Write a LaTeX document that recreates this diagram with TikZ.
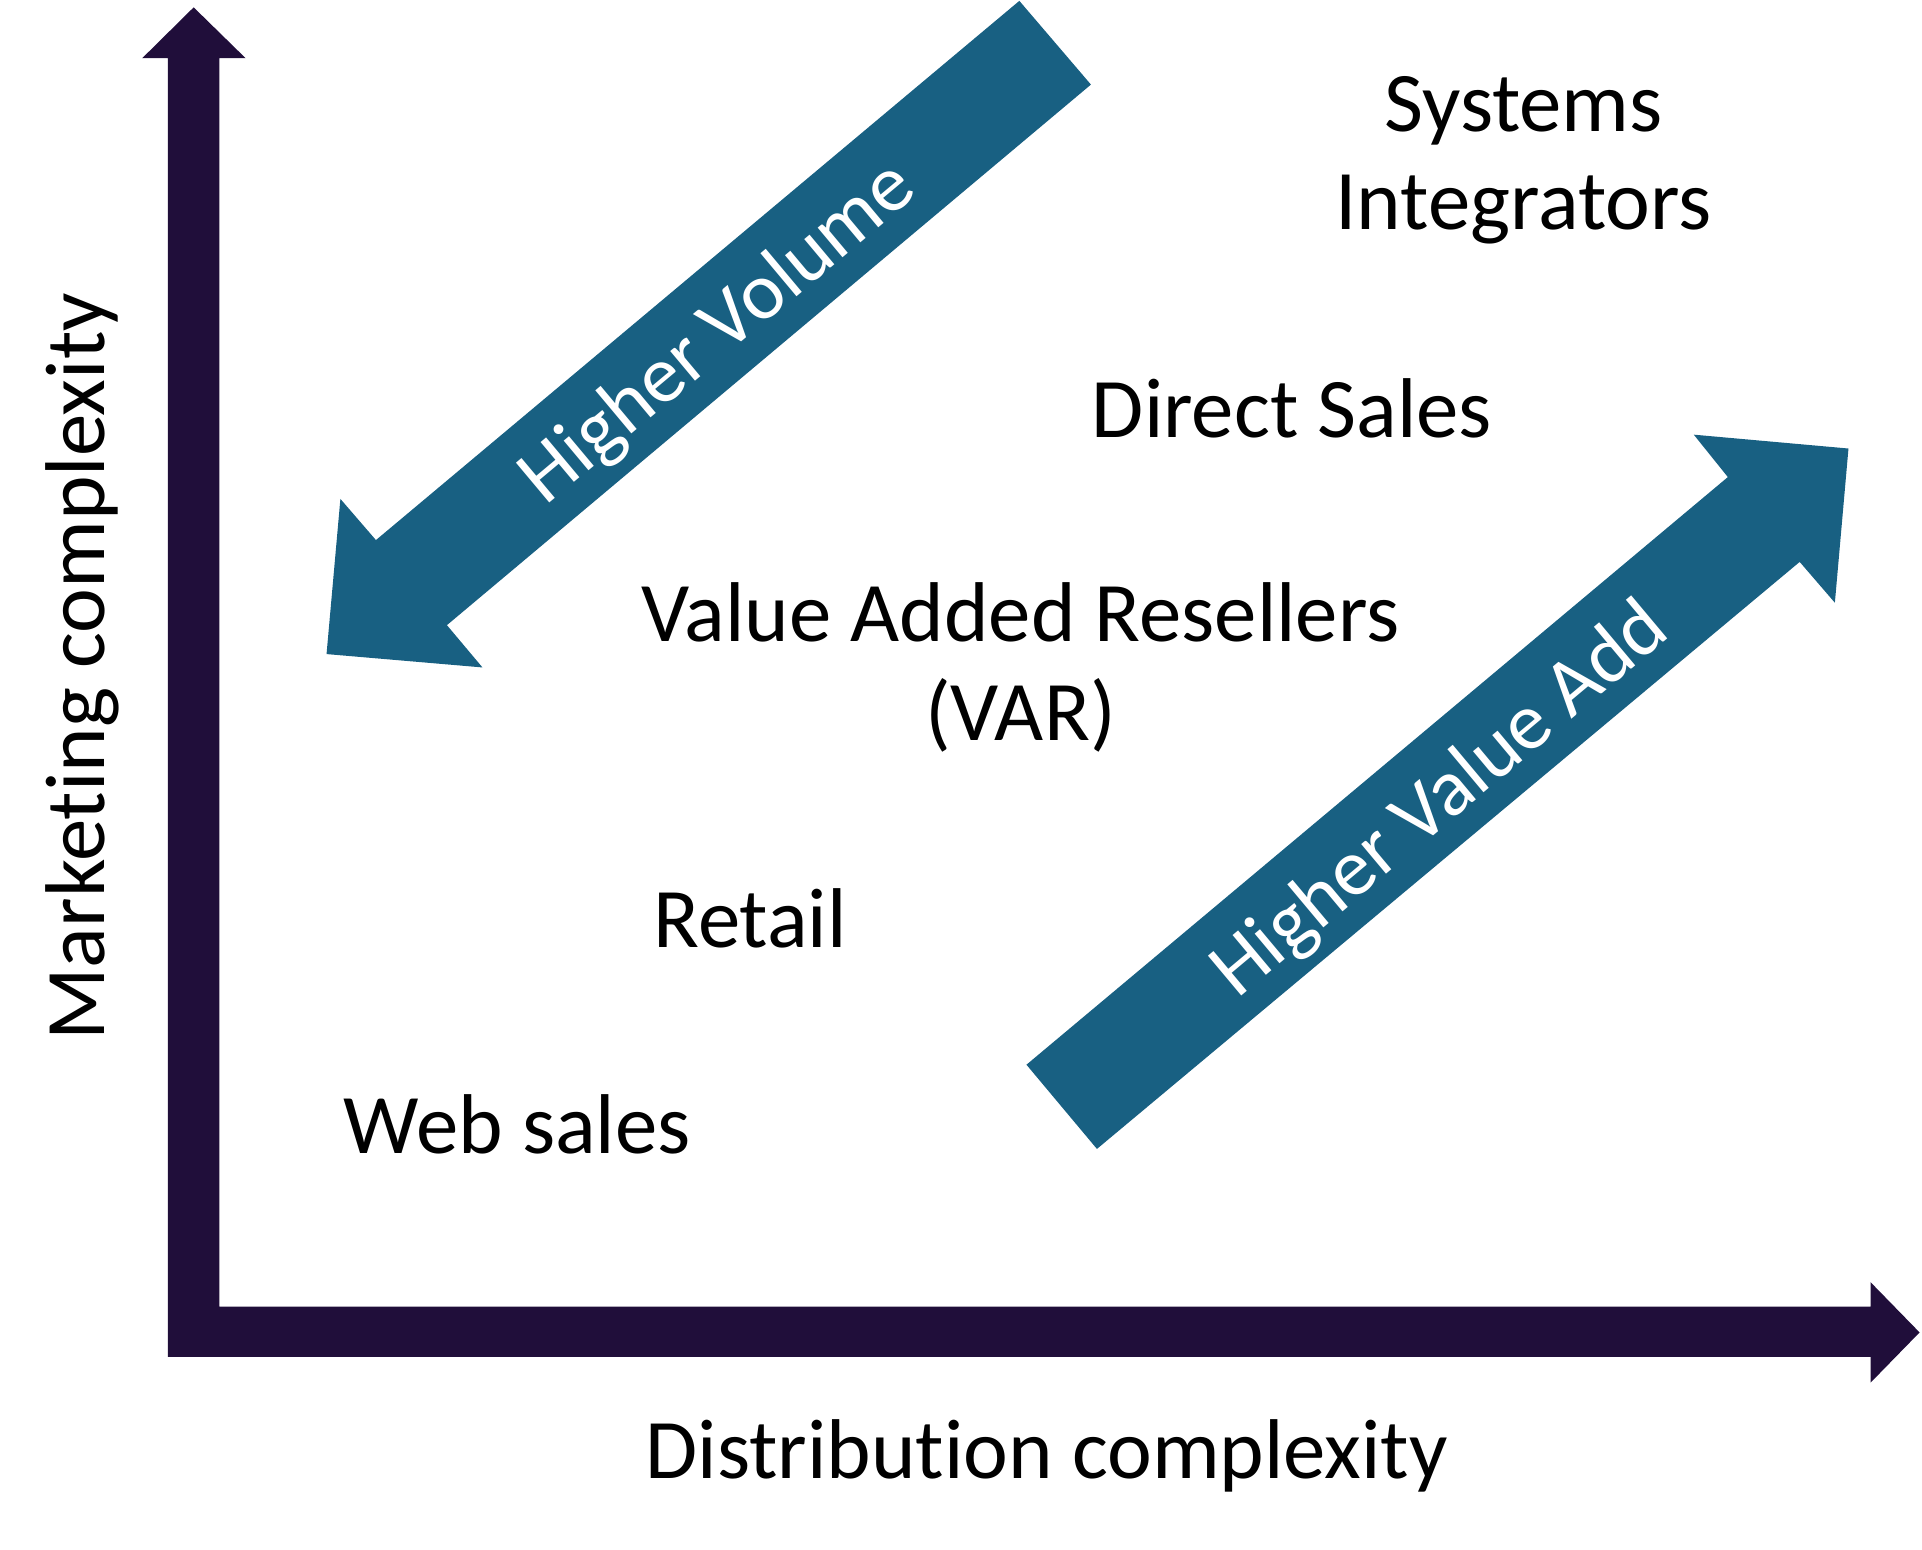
\documentclass[tikz,border=0pt]{standalone}
\usepackage{fontspec}
\setmainfont{Carlito}[Ligatures=NoCommon]
\definecolor{axiscol}{RGB}{32,14,58}
\definecolor{teal}{RGB}{24,96,130}
\begin{document}
\begin{tikzpicture}[x=0.5pt,y=-0.5pt,
  lbl/.style={inner sep=0pt,anchor=base,font=\fontsize{34.6}{40}\selectfont,text=black},
  arrlbl/.style={inner sep=0pt,anchor=base,font=\fontsize{33}{40}\selectfont,text=white,rotate=39.94}]
\useasboundingbox (0,0) rectangle (1568,1264.5);
% axes
\fill[axiscol] (137,1107) -- (137,47.5) -- (116,47.5) -- (158,6) -- (200.4,47.5) -- (179,47.5)
  -- (179,1066) -- (1526,1066) -- (1526,1046) -- (1566,1087) -- (1526,1128) -- (1526,1107) -- cycle;
% Higher Volume arrow
\fill[teal] (831.6,0.7) -- (890,69) -- (364.6,510) -- (393.6,544.5) -- (266.4,533.6)
  -- (277.7,407) -- (306.7,440.6) -- cycle;
% Higher Value Add arrow
\fill[teal] (837.4,868.6) -- (1409.6,389.2) -- (1381.8,354.6) -- (1508,365.9) -- (1496.9,491.7)
  -- (1468.2,458.4) -- (894.9,937.3) -- cycle;
\node[arrlbl] (hv) at (597.5,285.7) {Higher Volume};
\node[arrlbl] (hva) at (1186.9,666.9) {Higher Value Add};
% labels
\node[lbl] (si1) at (1243,107.4) {Systems};
\node[lbl] (si2) at (1243,187.6) {Integrators};
\node[lbl] (ds) at (1054,357) {Direct Sales};
\node[lbl] (var1) at (832.5,523.7) {Value Added Resellers};
\node[lbl] (var2) at (832.5,604.3) {(VAR)};
\node[lbl] (ret) at (612,772.7) {Retail};
\node[lbl] (web) at (422,940.8) {Web sales};
\node[lbl] (xlab) at (854,1206) {Distribution complexity};
\node[lbl,rotate=90] (ylab) at (85,544) {Marketing complexity};
\end{tikzpicture}
\end{document}
